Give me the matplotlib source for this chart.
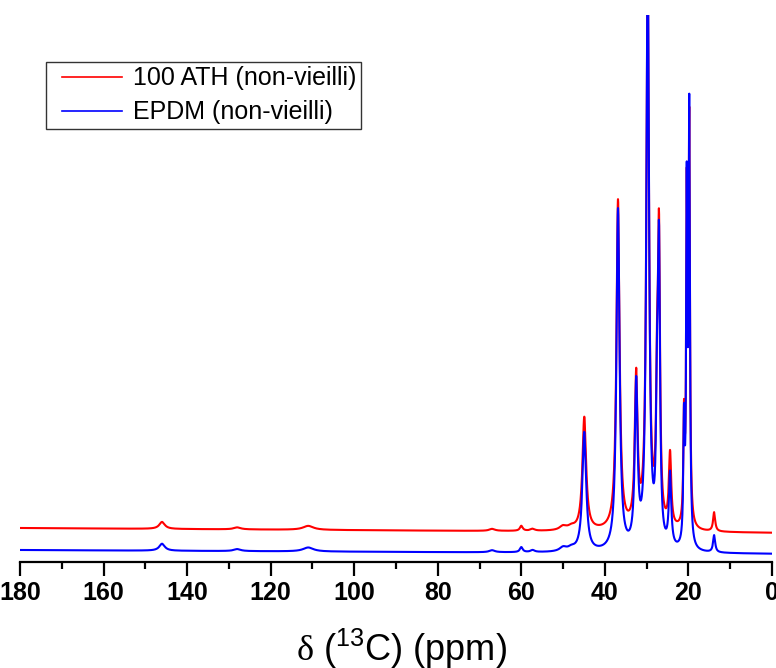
import numpy as np
import matplotlib
matplotlib.use("Agg")
import matplotlib.pyplot as plt
from matplotlib.ticker import MultipleLocator
from matplotlib.legend_handler import HandlerLine2D
from matplotlib.lines import Line2D

plt.rcParams["font.family"] = ["Liberation Sans", "DejaVu Sans"]
plt.rcParams["mathtext.fontset"] = "custom"
plt.rcParams["mathtext.rm"] = "Liberation Serif"
plt.rcParams["mathtext.sf"] = "Liberation Sans"

# peaks: position (ppm), half-width (ppm), heights (px above baseline)
peak_ppm = [146.0, 128.0, 111.0, 67.0, 60.0, 57.3, 50.0, 48.0,
            44.93, 36.86, 32.5, 29.75, 27.5, 27.05, 24.4, 21.06, 20.4, 19.8, 13.85]
peak_hwhm = [0.8, 1.0, 1.5, 0.8, 0.4, 0.6, 1.0, 1.0,
             0.534, 0.445, 0.395, 0.38, 0.288, 0.291, 0.334, 0.186, 0.168, 0.186, 0.297]
red_height = [7, 2, 4, 2, 5, 2, 4, 3,
              113, 329, 149, 549, 120, 274, 73, 102, 320, 398, 19]
blue_height = [7, 2, 4, 2, 5, 2, 4, 3,
               119, 341, 161, 587, 126, 281, 73, 117, 343, 430, 17]

# baselines at 180 ppm and at 0 ppm (red trace is offset above blue)
red_base = [34, 29]
blue_base = [12, 8]

labels = ["100 ATH (non-vieilli)", "EPDM (non-vieilli)"]

ppm = np.linspace(0, 180, 36001)


def spectrum(heights, base):
    y = base[1] + (base[0] - base[1]) * ppm / 180.0
    for p, h, w in zip(peak_ppm, heights, peak_hwhm):
        y = y + h / (1 + ((ppm - p) / w) ** 2)
    return y


fig = plt.figure(figsize=(7.76, 6.68), dpi=100)
ax = fig.add_axes([20 / 776, 1 - 562 / 668, 752 / 776, 547 / 668])

ax.plot(ppm, spectrum(red_height, red_base), color="red", lw=1.5, label=labels[0])
ax.plot(ppm, spectrum(blue_height, blue_base), color="blue", lw=1.5, label=labels[1])

ax.set_xlim(180, 0)
ax.set_ylim(0, 547)

for s in ["left", "right", "top"]:
    ax.spines[s].set_visible(False)
ax.spines["bottom"].set_linewidth(1.6)
ax.set_yticks([])
ax.xaxis.set_major_locator(MultipleLocator(20))
ax.xaxis.set_minor_locator(MultipleLocator(10))
ax.tick_params(axis="x", which="major", direction="out", length=10, width=1.6,
               labelsize=18, pad=4)
ax.tick_params(axis="x", which="minor", direction="out", length=5, width=1.6)
for t in ax.get_xticklabels():
    t.set_fontweight("bold")

ax.set_xlabel(r"$\mathrm{\delta}$ ($\mathsf{^{13}}$C) (ppm)", fontsize=26, va="baseline")
ax.xaxis.set_label_coords(401.5 / 752 - 20 / 752, (562 - 661) / 547)

leg = ax.legend(loc="upper left", bbox_to_anchor=(46 / 776, 1 - 62 / 668),
                bbox_transform=fig.transFigure, fontsize=18, frameon=True,
                fancybox=False, edgecolor="black", handlelength=3.3,
                borderpad=0.18, labelspacing=0.4, handletextpad=0.0,
                borderaxespad=0,
                handler_map={Line2D: HandlerLine2D(marker_pad=0.45, numpoints=2)})
leg.get_frame().set_linewidth(1.0)
for h in leg.get_lines():
    h.set_linewidth(1.2)

fig.savefig("out.png", dpi=100)
